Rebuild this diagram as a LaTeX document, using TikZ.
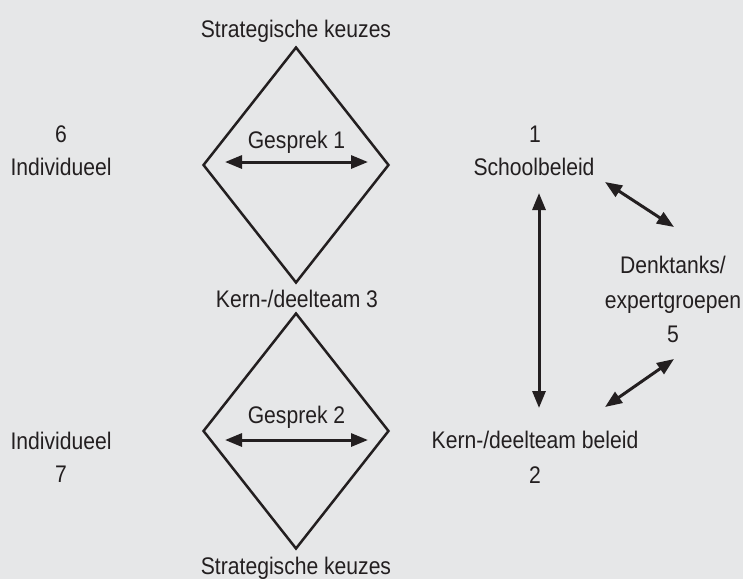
\documentclass[tikz,border=0pt]{standalone}
\usepackage{fontspec}
\setmainfont{Liberation Sans}[FakeStretch=0.88]
\usetikzlibrary{arrows.meta,shapes.geometric}
\definecolor{bg}{RGB}{230,231,232}
\definecolor{ink}{RGB}{35,31,32}
\begin{document}
\begin{tikzpicture}[x=1pt,y=-1pt,
  lbl/.style={font=\fontsize{24}{34}\selectfont, text=ink, inner sep=0pt, anchor=base},
  dia/.style={diamond, draw=ink, line width=2.5pt, minimum width=186pt, minimum height=236pt, inner sep=0pt},
  dbl/.style={{Triangle[length=17pt,width=13pt]}-{Triangle[length=17pt,width=13pt]}, line width=3pt, draw=ink}]
\fill[bg] (0,0) rectangle (743,579);
\useasboundingbox (0,0) rectangle (743,579);

% diamonds
\node[dia] (d1) at (296,165) {};
\node[dia] (d2) at (296,431) {};

% labels
\node[lbl] (top) at (296,37) {Strategische keuzes};
\node[lbl] (n6) at (61,142) {6};
\node[lbl] (ind1) at (61,175) {Individueel};
\node[lbl] (n1) at (535,142) {1};
\node[lbl] (school) at (534,175) {Schoolbeleid};
\node[lbl] (g1) at (296.5,148) {Gesprek 1};
\node[lbl] (kern3) at (297,307) {Kern-/deelteam 3};
\node[lbl] (denk) at (673,273) {Denktanks/};
\node[lbl] (expert) at (673,308) {expertgroepen};
\node[lbl] (n5) at (673,342) {5};
\node[lbl] (g2) at (296.5,423) {Gesprek 2};
\node[lbl] (ind2) at (61,449) {Individueel};
\node[lbl] (n7) at (61,482) {7};
\node[lbl] (kernb) at (535,448) {Kern-/deelteam beleid};
\node[lbl] (n2) at (535,483) {2};
\node[lbl] (bot) at (296,574) {Strategische keuzes};

% arrow end points
\coordinate (g1l) at (225,162);
\coordinate (g1r) at (368,162);
\coordinate (g2l) at (225,440);
\coordinate (g2r) at (368,440);
\coordinate (vt) at (539,193);
\coordinate (vb) at (539,408);
\coordinate (ua) at (605,182);
\coordinate (ub) at (674,227);
\coordinate (la) at (674,359);
\coordinate (lb) at (605,407);

\draw[dbl] (g1l) -- (g1r);
\draw[dbl] (g2l) -- (g2r);
\draw[dbl] (vt) -- (vb);
\draw[dbl] (ua) -- (ub);
\draw[dbl] (la) -- (lb);
\end{tikzpicture}
\end{document}
